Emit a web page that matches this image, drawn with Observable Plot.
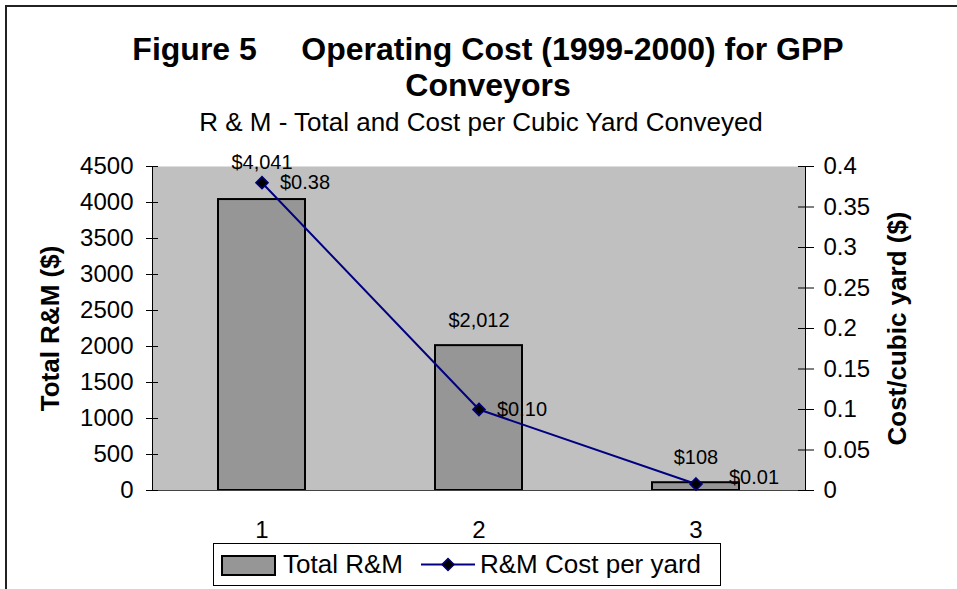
<!DOCTYPE html>
<html><head><meta charset="utf-8">
<script src="https://cdn.jsdelivr.net/npm/d3@7"></script>
<script src="https://cdn.jsdelivr.net/npm/@observablehq/plot@0.6"></script>
<style>
body{margin:0;background:#fff;font-family:"Liberation Sans",Arial,sans-serif;width:957px;height:589px;overflow:hidden;position:relative;color:#000}
#frame{position:absolute;left:5px;top:5px;width:1000px;height:700px;border-left:2px solid #222;border-top:2px solid #222}
.t{position:absolute;text-align:center;white-space:pre;line-height:1}
#title1,#title2{font-weight:bold;font-size:32px;left:88px;width:800px}
#title1{top:33px}
#title2{top:69px}
#sub{font-size:26px;left:81px;width:800px;top:109px}
#chart{position:absolute;left:0;top:140px}
#legend{position:absolute;left:213px;top:543px;width:508px;height:43px;box-sizing:border-box;border:1px solid #000;background:#fff}
#legend .it{position:absolute;top:0;height:41px;line-height:41px;font-size:26px;white-space:pre}
#legend svg{position:absolute}
</style></head><body>
<div id="frame"></div>
<div class="t" id="title1">Figure 5     Operating Cost (1999-2000) for GPP</div>
<div class="t" id="title2">Conveyors</div>
<div class="t" id="sub">R &amp; M - Total and Cost per Cubic Yard Conveyed</div>
<div id="chart"></div>
<div id="legend">
  <svg style="left:7px;top:11px" width="55" height="21"><rect x="1" y="1" width="53" height="19" fill="#969696" stroke="#000" stroke-width="2"/></svg>
  <span class="it" style="left:69px">Total R&amp;M</span>
  <svg style="left:207px;top:12px" width="54" height="17"><line x1="0" y1="8.5" x2="54" y2="8.5" stroke="#000080" stroke-width="2"/><path d="M27,2.5L33,8.5L27,14.5L21,8.5Z" fill="#000" stroke="#000080" stroke-width="1.5"/></svg>
  <span class="it" style="left:266px">R&amp;M Cost per yard</span>
</div>
<script>
const categories = ["1", "2", "3"];
const totalRM = [4041, 2012, 108];
const costPerYard = [0.38, 0.10, 0.008];
const leftTicks = [0, 500, 1000, 1500, 2000, 2500, 3000, 3500, 4000, 4500];
const rightTicks = [0, 0.05, 0.1, 0.15, 0.2, 0.25, 0.3, 0.35, 0.4];
const leftTitle = "Total R&M ($)";
const rightTitle = "Cost/cubic yard ($)";

const leftMax = 4500, rightMax = 0.4;
const k = leftMax / rightMax;
const data = categories.map((c, i) => ({cat: c, total: totalRM[i], cost: costPerYard[i], i}));
const money = d3.format("$,");

const chart = Plot.plot({
  width: 957,
  height: 403,
  marginLeft: 152,
  marginRight: 152,
  marginTop: 26,
  marginBottom: 53,
  style: {fontFamily: '"Liberation Sans", Arial, sans-serif', fontSize: "24px", color: "#000", background: "transparent", overflow: "visible"},
  x: {type: "band", domain: categories, paddingInner: 0.6, paddingOuter: 0.3, axis: null},
  y: {domain: [0, leftMax], axis: null},
  marks: [
    Plot.frame({fill: "#c0c0c0", stroke: "none"}),
    Plot.barY(data, {x: "cat", y: "total", fill: "#969696", stroke: "#000", strokeWidth: 2}),
    Plot.ruleY([0], {stroke: "#444", strokeWidth: 1}),
    Plot.frame({anchor: "left", stroke: "#000"}),
    Plot.frame({anchor: "right", stroke: "#000"}),
    Plot.axisY({anchor: "left", ticks: leftTicks, tickFormat: d => String(d), tickSize: 12, dx: 6, tickPadding: 13, fontSize: 24, label: null, stroke: "#000"}),
    Plot.axisY({anchor: "right", ticks: rightTicks.map(v => v * k), tickFormat: v => String(+(v / k).toFixed(2)), tickSize: 16, dx: -8, tickPadding: 10, fontSize: 24, label: null, stroke: "#000"}),
    Plot.axisX({tickSize: 0, tickPadding: 30, fontSize: 24, label: null}),
    Plot.text([leftTitle], {frameAnchor: "left", textAnchor: "middle", dx: -102, rotate: -90, fontWeight: "bold", fontSize: 26}),
    Plot.text([rightTitle], {frameAnchor: "right", textAnchor: "middle", dx: 92, rotate: -90, fontWeight: "bold", fontSize: 26}),
    Plot.line(data, {x: "cat", y: d => d.cost * k, stroke: "#000080", strokeWidth: 2}),
    Plot.dot(data, {x: "cat", y: d => d.cost * k, symbol: "diamond2", r: 5.5, fill: "#000", stroke: "#000080", strokeWidth: 1.5}),
    Plot.text(data.filter(d => d.i === 0), {x: "cat", y: "total", text: d => money(d.total), dy: -37, fontSize: 20}),
    Plot.text(data.filter(d => d.i > 0), {x: "cat", y: "total", text: d => money(d.total), dy: -25, fontSize: 20}),
    Plot.text(data.filter(d => d.i < 2), {x: "cat", y: d => d.cost * k, text: d => "$" + d.cost.toFixed(2), dx: 18, textAnchor: "start", fontSize: 20}),
    Plot.text(data.filter(d => d.i === 2), {x: "cat", y: d => d.cost * k, text: d => "$" + d.cost.toFixed(2), dx: 33, dy: -6, textAnchor: "start", fontSize: 20})
  ]
});
document.getElementById("chart").appendChild(chart);
</script>
</body></html>
